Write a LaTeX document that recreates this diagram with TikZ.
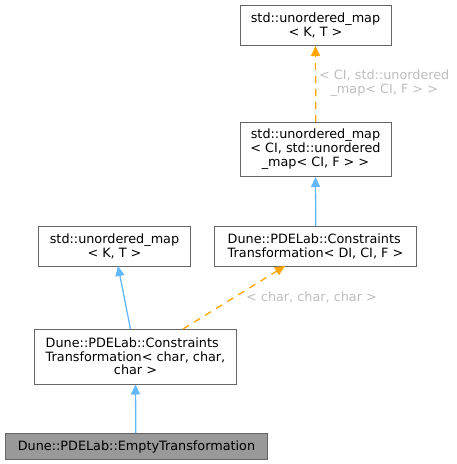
\documentclass[tikz,border=0pt]{standalone}
\usepackage{fontspec}
\setmainfont{DejaVu Sans}
\usetikzlibrary{arrows.meta}
\definecolor{edgeblue}{HTML}{63B8FF}
\definecolor{edgeorange}{HTML}{FFA500}
\definecolor{boxborder}{HTML}{666666}
\definecolor{labelgray}{HTML}{BEBEBE}
\definecolor{cursel}{HTML}{999999}
\tikzset{
  cls/.style={draw=boxborder, line width=1pt, fill=white, inner sep=0pt, align=center,
    font=\fontsize{12.8}{14}\selectfont, text=black},
  inh/.style={draw=edgeblue, line width=1.3pt, -{Triangle[length=10pt,width=9pt,fill=edgeblue]}},
  tpl/.style={draw=edgeorange, line width=1.3pt, dash pattern=on 7pt off 6pt, -{Triangle[length=10pt,width=9pt,fill=edgeorange]}},
  lbl/.style={text=labelgray, font=\fontsize{12.8}{14}\selectfont, align=center, inner sep=0pt},
}
\begin{document}
\begin{tikzpicture}[x=1pt,y=-1pt]
\useasboundingbox (0,0) rectangle (456,464);
\node[cls, minimum width=151pt, minimum height=40pt] (A) at (315.5,25.5) {std::unordered\_map\\< K, T >};
\node[cls, minimum width=151pt, minimum height=54pt] (B) at (315.5,149.5) {std::unordered\_map\\< CI, std::unordered\\\_map< CI, F > >};
\node[cls, minimum width=202pt, minimum height=40pt, align=left] (C) at (315.5,246.5) {Dune::PDELab::Constraints\\Transformation< DI, CI, F >};
\node[cls, minimum width=152pt, minimum height=40pt] (D) at (114.5,246.5) {std::unordered\_map\\< K, T >};
\node[cls, minimum width=202pt, minimum height=55pt] (E) at (135.5,356.5) {\begin{tabular}{@{}l@{}}Dune::PDELab::Constraints\\Transformation< char, char,\end{tabular}\\[-2pt]char >};
\node[cls, fill=cursel, draw=boxborder, minimum width=262pt, minimum height=26pt] (F) at (136.5,446.5) {Dune::PDELab::EmptyTransformation};
\draw[tpl] ([xshift=0.3pt]B.north) -- (A.south);
\node[lbl, anchor=west] (lb) at (319,83) {< CI, std::unordered\\\_map< CI, F > >};
\draw[inh] ([xshift=0.3pt]C.north) -- (B.south);
\draw[inh] ([xshift=0.3pt]F.north -| E.south) -- (E.south);
\coordinate (e1) at (130.5,329);
\coordinate (d1) at (118,266);
\draw[inh] (e1) -- (d1);
\coordinate (e2) at (183,329);
\coordinate (c2) at (285,266);
\draw[tpl] (e2) -- (c2);
\node[lbl, anchor=west] (lc) at (246,297) {< char, char, char >};
\end{tikzpicture}
\end{document}
